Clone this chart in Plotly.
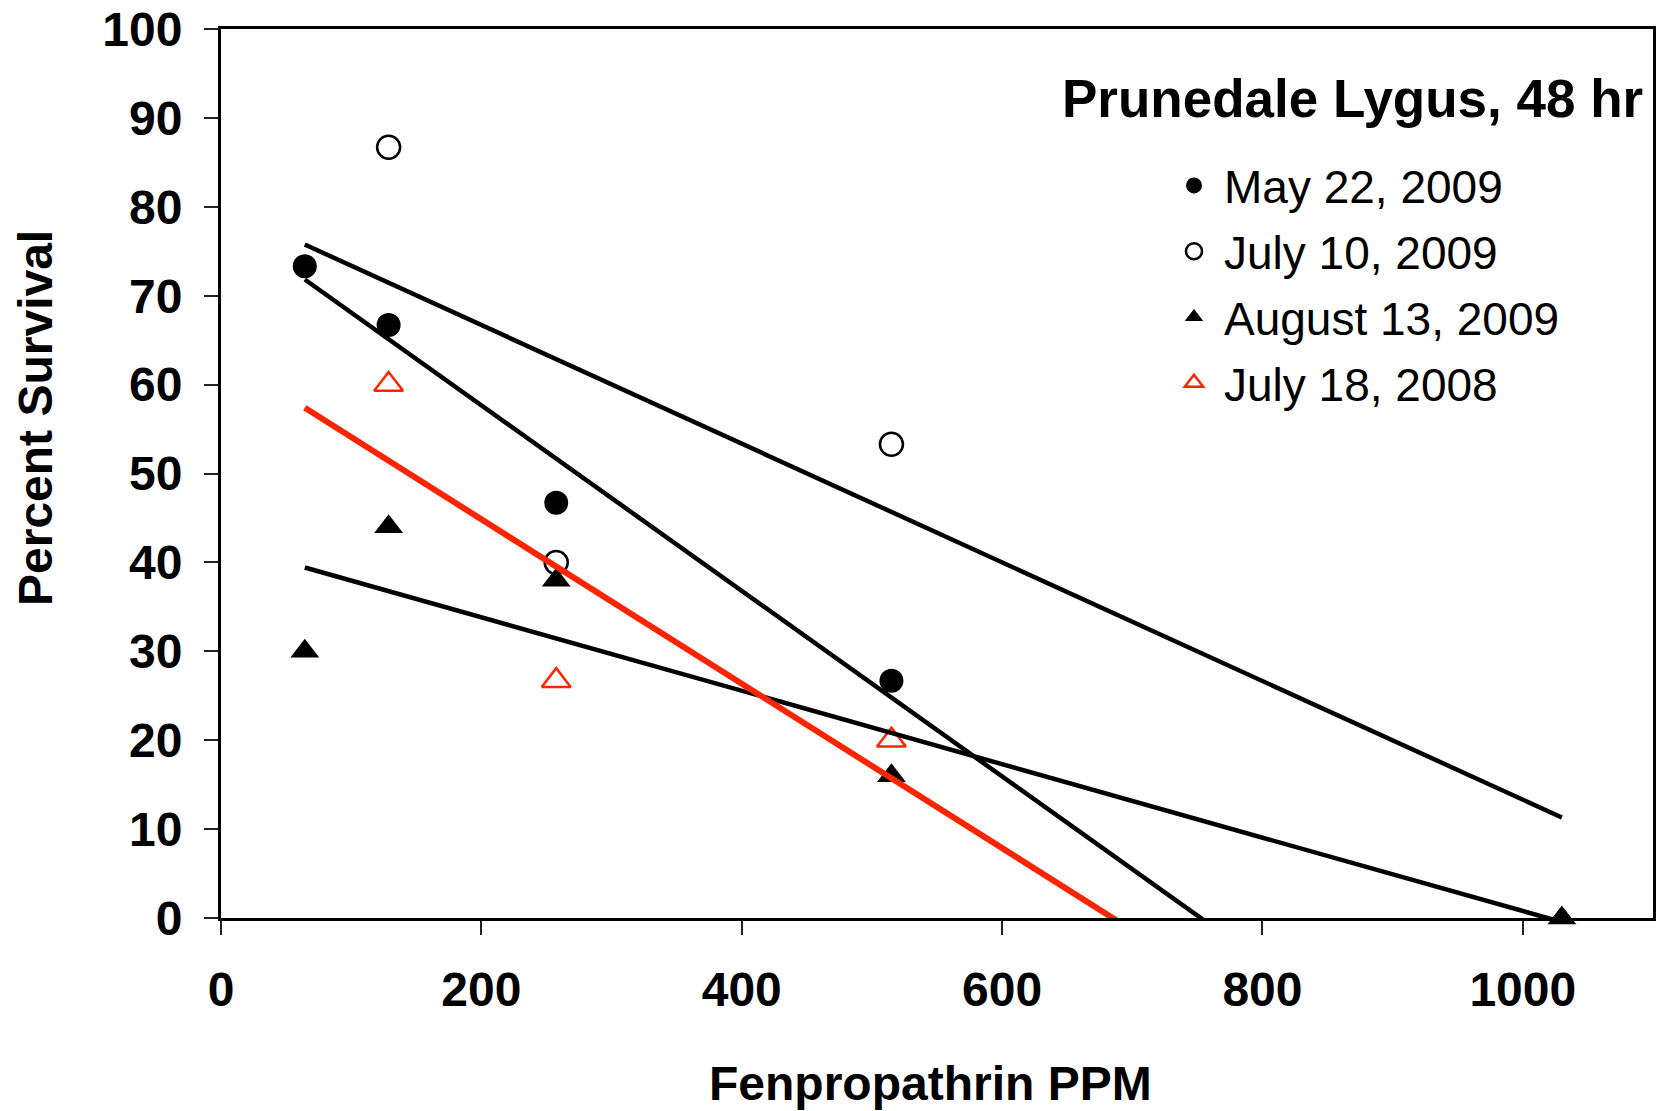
import numpy as np
import plotly.graph_objects as go

# ---- data ----
doses = [64.375, 128.75, 257.5, 515, 1030]

may22_x = [64.375, 128.75, 257.5, 515]
may22_y = [73.3, 66.7, 46.7, 26.7]

jul10_x = [128.75, 257.5, 515]
jul10_y = [86.7, 40.0, 53.3]

aug13_x = [64.375, 128.75, 257.5, 515, 1030]
aug13_y = [30.0, 44.0, 38.0, 16.0, 0.0]

jul18_x = [128.75, 257.5, 515]
jul18_y = [60.0, 26.7, 20.0]

series_names = ["May 22, 2009", "July 10, 2009", "August 13, 2009", "July 18, 2008"]
x_ticks = [0, 200, 400, 600, 800, 1000]
y_ticks = [0, 10, 20, 30, 40, 50, 60, 70, 80, 90, 100]

RED = "#FF2400"
FONT = "Arial, Liberation Sans, sans-serif"

fig = go.Figure()

styles = [
    (may22_x, may22_y, dict(symbol="circle", size=24, color="black", line=dict(width=0)), "black", 4.5),
    (jul10_x, jul10_y, dict(symbol="circle-open", size=23, color="black", line=dict(width=2.5)), "black", 4.5),
    (aug13_x, aug13_y, dict(symbol="triangle-up", size=25, color="black", line=dict(width=0)), "black", 4.5),
    (jul18_x, jul18_y, dict(symbol="triangle-up-open", size=25, color=RED, line=dict(width=2.5)), RED, 6),
]

# markers
for i, (xs, ys, mk, lc, lw) in enumerate(styles):
    fig.add_trace(go.Scatter(
        x=xs, y=ys, mode="markers", marker=mk, name=series_names[i],
        legendgroup=f"g{i}", cliponaxis=False, showlegend=True,
    ))

# linear trend lines across the dose range
xmin, xmax = min(doses), max(doses)
for i, (xs, ys, mk, lc, lw) in enumerate(styles):
    slope, intercept = np.polyfit(xs, ys, 1)
    lx = [xmin, xmax]
    ly = [slope * v + intercept for v in lx]
    fig.add_trace(go.Scatter(
        x=lx, y=ly, mode="lines", line=dict(color=lc, width=lw),
        showlegend=False, hoverinfo="skip",
    ))

axis_common = dict(
    showgrid=False, zeroline=False, showline=True, linecolor="black", linewidth=3,
    mirror=True, ticks="outside", ticklen=14, tickwidth=1.5, tickcolor="#222",
    tickfont=dict(family=FONT, size=48, color="black", weight="bold"),
    automargin=False,
)

fig.update_xaxes(range=[0, 1100], tickvals=x_ticks, ticktext=[str(v) for v in x_ticks],
                 ticklabelstandoff=13, **axis_common)
fig.update_yaxes(range=[0, 100], tickvals=y_ticks, ticktext=[str(v) for v in y_ticks],
                 ticklabelstandoff=12, **axis_common)

fig.update_layout(
    width=1662, height=1111,
    margin=dict(l=221, r=9, t=29, b=193, pad=0),
    plot_bgcolor="white", paper_bgcolor="white",
    font=dict(family=FONT, color="black"),
    legend=dict(
        x=(1164 - 221) / 1432, y=0.865, xanchor="left", yanchor="top",
        font=dict(family=FONT, size=46, color="black"),
        bgcolor="rgba(0,0,0,0)", tracegroupgap=3, itemsizing="trace", itemwidth=50,
    ),
    annotations=[
        dict(text="<b>Prunedale Lygus, 48 hr</b>", xref="paper", yref="paper",
             x=(1645 - 221) / 1432, y=(918 - 98) / 889, xanchor="right", yanchor="middle",
             showarrow=False, font=dict(family=FONT, size=53, color="black")),
        dict(text="<b>Percent Survival</b>", xref="paper", yref="paper",
             x=(35 - 221) / 1432, y=(918 - 418) / 889, xanchor="center", yanchor="middle",
             textangle=-90, showarrow=False, font=dict(family=FONT, size=48, color="black")),
        dict(text="<b>Fenpropathrin PPM</b>", xref="paper", yref="paper",
             x=(930 - 221) / 1432, y=(918 - 1083) / 889, xanchor="center", yanchor="middle",
             showarrow=False, font=dict(family=FONT, size=48, color="black")),
    ],
)

fig.write_html("out.html")
